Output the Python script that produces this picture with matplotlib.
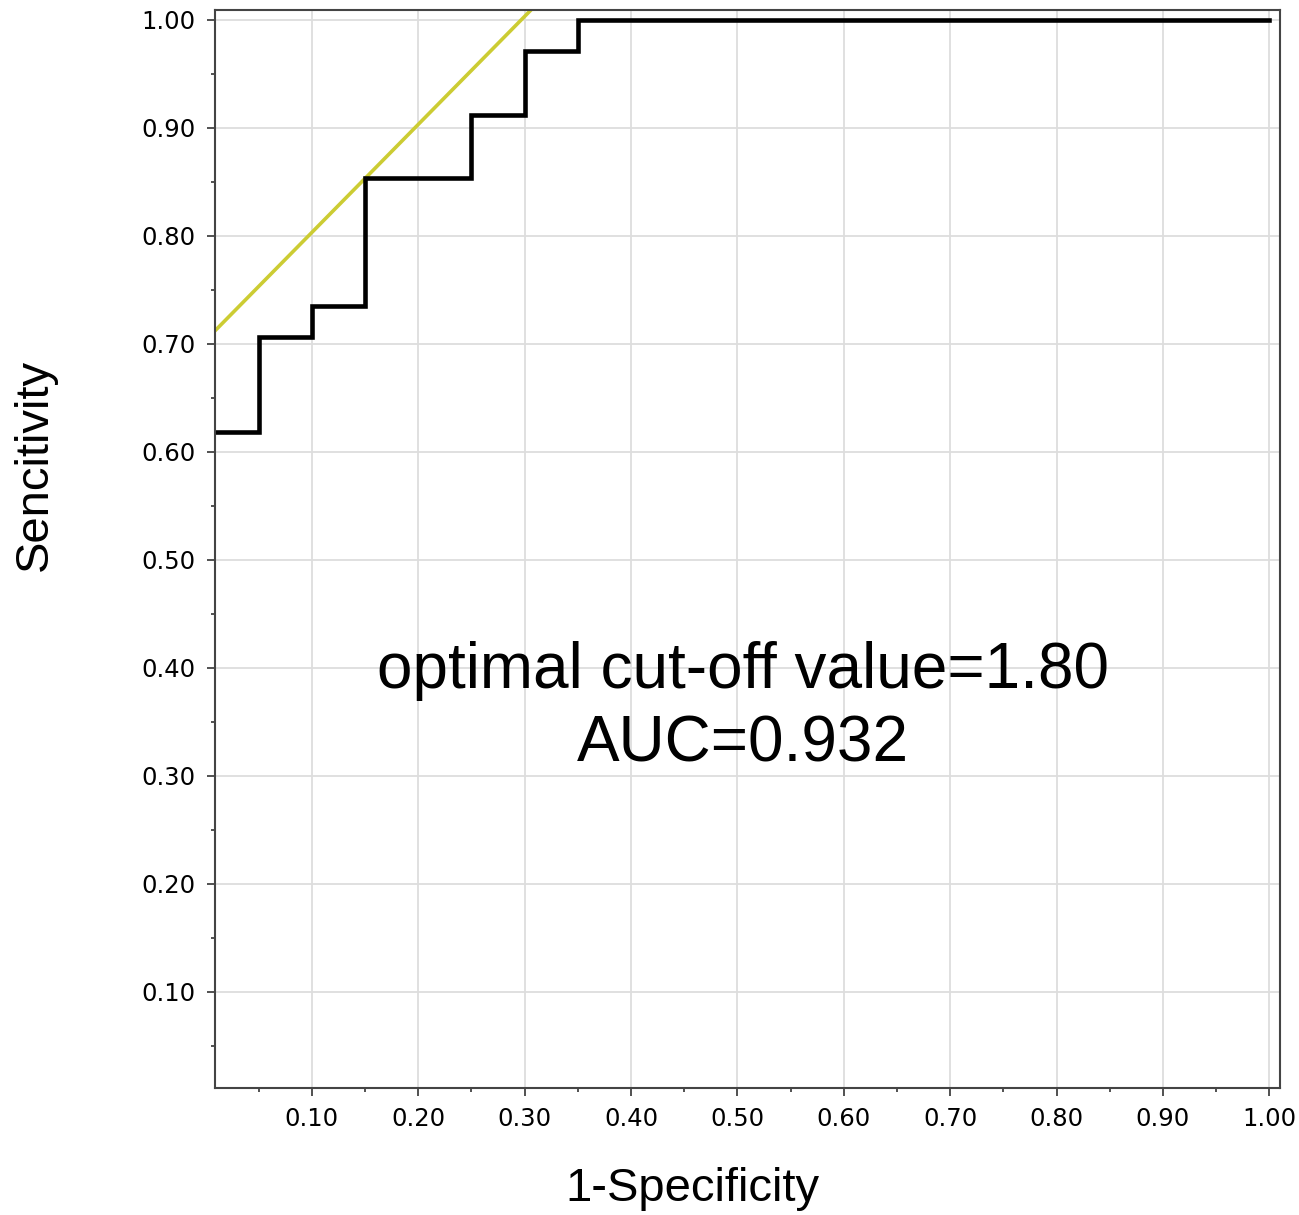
import matplotlib
matplotlib.use('Agg')
import matplotlib.pyplot as plt
import numpy as np

# ROC curve (step points) and Youden tangent line
fpr = [0.0, 0.05, 0.05, 0.10, 0.10, 0.15, 0.15, 0.25, 0.25, 0.30, 0.30, 0.35, 0.35, 1.0]
tpr = [0.618, 0.618, 0.706, 0.706, 0.735, 0.735, 0.853, 0.853, 0.912, 0.912, 0.971, 0.971, 1.0, 1.0]
tan_x = [0.0, 0.35]
tan_y = [0.703, 1.053]
ticks = [0.1, 0.2, 0.3, 0.4, 0.5, 0.6, 0.7, 0.8, 0.9, 1.0]
minor = [0.05, 0.15, 0.25, 0.35, 0.45, 0.55, 0.65, 0.75, 0.85, 0.95]
cutoff_text = "optimal cut-off value=1.80\nAUC=0.932"

fig = plt.figure(figsize=(12.99, 12.15), dpi=100)
ax = fig.add_axes([0.1655, 0.1045, 0.8199, 0.8873])

ax.grid(True, color='#dddddd', linewidth=1.3)
ax.set_axisbelow(True)
ax.plot(tan_x, tan_y, color='#cccc33', linewidth=2.6, clip_on=True)
ax.plot(fpr, tpr, color='black', linewidth=3.3, solid_joinstyle='miter')

ax.set_xlim(0.009, 1.01)
ax.set_ylim(0.011, 1.009)
ax.set_xticks(ticks)
ax.set_yticks(ticks)
ax.set_xticks(minor, minor=True)
ax.set_yticks(minor, minor=True)
ax.set_xticklabels(['%.2f' % t for t in ticks])
ax.set_yticklabels(['%.2f' % t for t in ticks])
ax.tick_params(which='major', length=6, width=1.2, color='#333333', labelsize=17.5, pad=8)
ax.tick_params(which='minor', length=3, width=1.2, color='#333333')
for s in ax.spines.values():
    s.set_color('#444444')
    s.set_linewidth(1.5)

ax.text(0.505, 0.363, cutoff_text, ha='center', va='center', fontsize=46,
        family='Liberation Sans', linespacing=1.3)

fig.text(0.533, 0.021, '1-Specificity', ha='center', va='center', fontsize=34, family='Liberation Sans')
fig.text(0.027, 0.617, 'Sencitivity', ha='center', va='center', rotation=90, fontsize=34, family='Liberation Sans')

fig.savefig('out.png', dpi=100)
